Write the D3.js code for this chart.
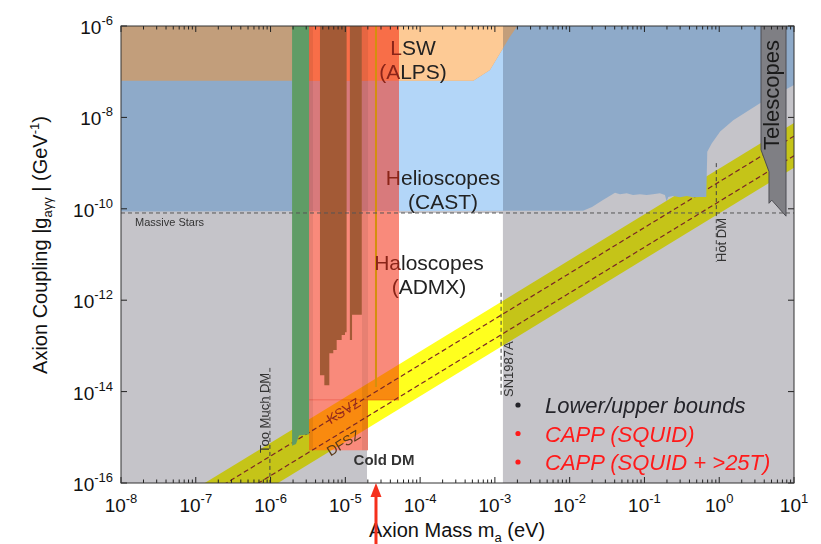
<!DOCTYPE html>
<html><head><meta charset="utf-8">
<script src="https://cdn.jsdelivr.net/npm/d3@7"></script>
<style>
body{margin:0;background:#fff;}
svg{display:block;font-family:"Liberation Sans",Arial,Helvetica,sans-serif;}
</style></head><body>
<svg id="c" width="821" height="544"></svg>
<script>
// ---------------- data ----------------
const xMajor = [1e-8,1e-7,1e-6,1e-5,1e-4,1e-3,1e-2,1e-1,1,10];
const yMajor = [1e-16,1e-14,1e-12,1e-10,1e-8,1e-6];

// Helioscope (CAST + others) lower boundary
const helioMass = [1e-8,1.51e-2,1.99e-2,2.79e-2,4.04e-2,4.71e-2,5.79e-2,7.03e-2,8.71e-2,0.107,0.130,0.161,0.188,0.198,0.208,0.241,0.299,0.367,0.446,0.553,0.671,0.692,0.793,1.03,1.54,3.51,10];
const helioG    = [8.7e-11,9.1e-11,1.10e-10,1.55e-10,2.24e-10,2.09e-10,2.19e-10,2.0e-10,2.09e-10,2.0e-10,2.09e-10,2.19e-10,2.0e-10,1.45e-10,1.82e-10,1.91e-10,1.78e-10,1.91e-10,1.78e-10,1.82e-10,1.82e-10,1.78e-9,2.69e-9,4.9e-9,8.7e-9,2.04e-8,5.13e-8];

// LSW (ALPS) lower/right boundary
const lswMass = [1e-8,5.14e-4,8.59e-4,1.17e-3,1.59e-3,2.0e-3];
const lswG    = [6.3e-8,6.3e-8,1.09e-7,2.53e-7,5.83e-7,1e-6];

// bounds
const massiveStarsG = 8.1e-11;
const coldDM = [1.95e-5, 1.28e-3];
const tooMuchDM = {m: 9.8e-7, g: [3.3e-14, 1e-16]};
const sn1987a  = {m: 1.21e-3, g: [1.45e-12, 7.6e-15]};
const hotDM    = {m: 0.914, g: [1e-9, 6.9e-12]};

// QCD axion band: g = m * 10^offset  (log-log slope 1)
const bandOffsets = {upper: -9.12, lower: -10.1, ksvz: -9.41, dfsz: -9.84};

// ADMX (green)
const admxMass = [1.94e-6, 2.19e-6, 2.40e-6, 3.27e-6];
const admxG    = [6.5e-16, 7.1e-16, 1.1e-15, 1.17e-15];

// RBF / UF (brown) step limits
const rbfEdges  = [4.58e-6,5.24e-6,6.11e-6,6.90e-6,7.66e-6,8.93e-6,9.89e-6,1.04e-5];
const rbfLimits = [2.29e-14,1.38e-14,6.9e-14,8.1e-14,1.35e-13,1.74e-13,2.0e-13,2.0e-13];
const ufEdges   = [1.15e-5,1.23e-5,1.66e-5];
const ufLimits  = [1.35e-13,4.8e-13,4.8e-13];

// HAYSTAC line
const haystac = {m: 2.57e-5, g: 1.26e-14};

// CAPP projections (red)
const cappSquid     = {m: [3.27e-6, 5.22e-5], g: 6.6e-15};
const cappSquid25T  = {m: [3.27e-6, 2.01e-5], g: 5.2e-16};
const cappDarkBands = [[3.27e-6, 3.70e-6],[1.67e-5, 2.01e-5]];

// Telescopes
const telMass = [3.62,3.62,4.63,4.63,5.04,7.82,7.82];
const telG    = [1e-6,1.95e-9,6.5e-10,1.32e-10,1.55e-10,6.9e-11,1e-6];

// arrow (CAPP target mass)
const arrowMass = 2.57e-5;

const legendItems = [
  {label: "Lower/upper bounds", color: "#24242a"},
  {label: "CAPP (SQUID)", color: "#ff1a1a"},
  {label: "CAPP (SQUID + >25T)", color: "#ff1a1a"}
];

// ---------------- drawing ----------------
const L=121, R=794, T=26, B=483;
const x = d3.scaleLog().domain([1e-8,10]).range([L,R]);
const y = d3.scaleLog().domain([1e-16,1e-6]).range([B,T]);
const svg = d3.select("#c");
const defs = svg.append("defs");
const line = d3.line().x(d=>x(d[0])).y(d=>y(d[1]));

function clip(id){ return defs.append("clipPath").attr("id",id); }
clip("plot").append("rect").attr("x",L).attr("y",T).attr("width",R-L).attr("height",B-T);
const helioPoly = d3.zip(helioMass, helioG).concat([[10,1e-6],[1e-8,1e-6]]);
const lswPoly = d3.zip(lswMass, lswG).concat([[1e-8,1e-6]]);
const belowHelio = [[1e-8,1e-16]].concat(d3.zip(helioMass, helioG)).concat([[10,1e-16]]);
clip("helio").append("path").attr("d", line(helioPoly)+"Z");
clip("lsw").append("path").attr("d", line(lswPoly)+"Z");
clip("below").append("path").attr("d", line(belowHelio)+"Z");
clip("strip").append("rect").attr("x",x(coldDM[0])).attr("y",T).attr("width",x(coldDM[1])-x(coldDM[0])).attr("height",B-T);

const plot = svg.append("g").attr("clip-path","url(#plot)");
// background (excluded by bounds)
plot.append("rect").attr("x",L).attr("y",T).attr("width",R-L).attr("height",B-T).attr("fill","#c5c4c9");
// cold DM allowed window
plot.append("rect").attr("x",x(coldDM[0])).attr("y",y(massiveStarsG))
  .attr("width",x(coldDM[1])-x(coldDM[0])).attr("height",B-y(massiveStarsG)).attr("fill","#ffffff");

// helioscopes
plot.append("path").attr("d",line(helioPoly)+"Z").attr("fill","#8eaac9");
plot.append("path").attr("d",line(helioPoly)+"Z").attr("fill","#b3d6f8").attr("clip-path","url(#strip)");
// LSW
plot.append("path").attr("d",line(lswPoly)+"Z").attr("fill","#c29e7b");
plot.append("path").attr("d",line(lswPoly)+"Z").attr("fill","#fdca95").attr("clip-path","url(#strip)");

// CAPP (red) projections with colours depending on what lies beneath
function cappRects(clipId, color){
  [cappSquid, cappSquid25T].forEach(c=>{
    const r = plot.append("rect").attr("x",x(c.m[0])).attr("y",T).attr("width",x(c.m[1])-x(c.m[0]))
      .attr("height",y(c.g)-T).attr("fill",color);
    if(clipId) r.attr("clip-path",`url(#${clipId})`);
  });
}
cappRects(null, "#f98a7b");
cappRects("helio", "#d87a7c");
cappRects("lsw", "#f86e48");
plot.append("rect").attr("x",x(cappSquid.m[0])).attr("y",y(cappSquid.g)-0.5).attr("width",x(cappSquid.m[1])-x(cappSquid.m[0])).attr("height",1).attr("fill","#f06a5a");

// QCD band (multiply) + model lines, only below helioscope limit
const mEnds = [1e-8, 10];
const band = mEnds.map(m=>[m, m*Math.pow(10,bandOffsets.upper)]).concat(mEnds.slice().reverse().map(m=>[m, m*Math.pow(10,bandOffsets.lower)]));
plot.append("path").attr("d",line(band)+"Z").attr("fill","#ffff1e")
  .attr("clip-path","url(#below)").style("mix-blend-mode","multiply");
["ksvz","dfsz"].forEach(k=>{
  plot.append("path").attr("d",line(mEnds.map(m=>[m, m*Math.pow(10,bandOffsets[k])])))
    .attr("clip-path","url(#below)")
    .attr("fill","none").attr("stroke","#7a2626").attr("stroke-width",1.2).attr("stroke-dasharray","5,3");
});

// ADMX green
const admxPoly = [[admxMass[0],1e-6]].concat(d3.zip(admxMass, admxG)).concat([[admxMass[admxMass.length-1],1e-6]]);
plot.append("path").attr("d",line(admxPoly)+"Z").attr("fill","#609c66");

// RBF / UF brown
const stepArea = d3.area().curve(d3.curveStepAfter).x(d=>x(d[0])).y0(y(1e-6)).y1(d=>y(d[1]));
plot.append("path").attr("d",stepArea(d3.zip(rbfEdges, rbfLimits))).attr("fill","#a35a36");
plot.append("path").attr("d",stepArea(d3.zip(ufEdges, ufLimits))).attr("fill","#a35a36");
// HAYSTAC
plot.append("line").attr("x1",x(haystac.m)).attr("x2",x(haystac.m)).attr("y1",T).attr("y2",y(haystac.g))
  .attr("stroke","#d4900e").attr("stroke-width",2);

// darker CAPP edges
cappDarkBands.forEach(b=>{
  plot.append("rect").attr("x",x(b[0])).attr("y",T).attr("width",x(b[1])-x(b[0])).attr("height",y(cappSquid25T.g)-T)
    .attr("fill","#000").attr("opacity",0.07);
});

// region labels, two lines each (first letters tinted where the CAPP region covers them)
const TINT = "#8a2418";
function label(px, py, lines){
  const t = plot.append("text").attr("y",py).attr("text-anchor","middle")
    .attr("font-size",21).attr("fill","#222");
  lines.forEach((parts, li)=>{
    parts.forEach((p, pi)=>{
      const s = t.append("tspan").text(p[0]);
      if(pi===0) s.attr("x",px).attr("dy", li===0 ? 0 : 24);
      if(p[1]) s.attr("fill",TINT);
    });
  });
}
label(413, 55, [[["L",1],["SW",0]], [["(A",1],["LPS)",0]]]);
label(443, 185, [[["H",1],["elioscopes",0]], [["(CAST)",0]]]);
label(429, 270, [[["Ha",1],["loscopes",0]], [["(",1],["ADMX)",0]]]);

// telescopes
plot.append("path").attr("d",line(d3.zip(telMass, telG))+"Z").attr("fill","#7f7f84").attr("stroke","#4d4d52").attr("stroke-width",1);
plot.append("text").attr("transform",`translate(779,95) rotate(-90)`).attr("text-anchor","middle")
  .attr("font-size",22).attr("fill","#1a1a1a").text("Telescopes");

// massive stars line
plot.append("line").attr("x1",L).attr("x2",R).attr("y1",y(massiveStarsG)).attr("y2",y(massiveStarsG))
  .attr("stroke","#555").attr("stroke-dasharray","4,3").attr("stroke-width",1);
plot.append("text").attr("x",135).attr("y",226).attr("font-size",11).attr("fill","#333").text("Massive Stars");

// vertical bounds
[tooMuchDM, sn1987a, hotDM].forEach(b=>{
  plot.append("line").attr("x1",x(b.m)).attr("x2",x(b.m)).attr("y1",y(b.g[0])).attr("y2",y(b.g[1]))
    .attr("stroke","#444").attr("stroke-dasharray","4,3").attr("stroke-width",1);
});
function vtext(px,py,txt){
  plot.append("text").attr("transform",`translate(${px},${py}) rotate(-90)`).attr("font-size",13).attr("fill","#333").text(txt);
}
vtext(268.5, 453, "Too Much DM");
vtext(513, 397, "SN1987A");
vtext(726, 262, "Hot DM");

// model labels
const ang = -Math.atan((y(1e-15)-y(1e-14))/(x(1e-5)-x(1e-6))) * 180/Math.PI;
plot.append("text").attr("transform",`translate(346,415) rotate(${ang})`).attr("text-anchor","middle")
  .attr("font-size",14).attr("fill","#9a2a1a").text("KSVZ");
plot.append("text").attr("transform",`translate(346,447) rotate(${ang})`).attr("text-anchor","middle")
  .attr("font-size",14).attr("fill","#5a3a18").text("DFSZ");
plot.append("text").attr("x",384).attr("y",465).attr("text-anchor","middle").attr("font-size",15)
  .attr("font-weight","bold").attr("fill","#333").text("Cold DM");

// legend
const lg = plot.append("g");
legendItems.forEach((d,i)=>{
  lg.append("circle").attr("cx",518).attr("cy",405+i*28.5).attr("r",2.6).attr("fill",d.color);
  lg.append("text").attr("x",545).attr("y",413+i*28.5).attr("font-size",22).attr("font-style","italic")
    .attr("fill",d.color).text(d.label);
});

// ---------------- axes ----------------
const ax = svg.append("g").attr("stroke","#222").attr("stroke-width",1);
const minors = [];
xMajor.slice(0,-1).forEach(v=>{ for(let j=2;j<=9;j++) minors.push(v*j); });
xMajor.forEach(v=>{
  ax.append("line").attr("x1",x(v)).attr("x2",x(v)).attr("y1",B).attr("y2",B-6);
  ax.append("line").attr("x1",x(v)).attr("x2",x(v)).attr("y1",T).attr("y2",T+6);
});
minors.forEach(v=>{
  ax.append("line").attr("x1",x(v)).attr("x2",x(v)).attr("y1",B).attr("y2",B-3.5);
  ax.append("line").attr("x1",x(v)).attr("x2",x(v)).attr("y1",T).attr("y2",T+3.5);
});
yMajor.forEach(v=>{
  ax.append("line").attr("x1",L).attr("x2",L+6).attr("y1",y(v)).attr("y2",y(v));
  ax.append("line").attr("x1",R).attr("x2",R-6).attr("y1",y(v)).attr("y2",y(v));
});
svg.append("rect").attr("x",L).attr("y",T).attr("width",R-L).attr("height",B-T)
  .attr("fill","none").attr("stroke","#333").attr("stroke-width",1);

function powLabel(sel, v){
  const e = Math.round(Math.log10(v));
  sel.append("tspan").text("10");
  sel.append("tspan").attr("font-size",13).attr("dy",-9).text(String(e));
}
xMajor.forEach(v=>{
  const t = svg.append("text").attr("x",x(v)).attr("y",512).attr("text-anchor","middle").attr("font-size",19).attr("fill","#111");
  powLabel(t, v);
});
yMajor.forEach(v=>{
  const t = svg.append("text").attr("x",113).attr("y",y(v)+8).attr("text-anchor","end").attr("font-size",19).attr("fill","#111");
  powLabel(t, v);
});

// axis titles
const xt = svg.append("text").attr("x",457).attr("y",537).attr("text-anchor","middle").attr("font-size",20).attr("fill","#111");
xt.append("tspan").text("Axion Mass m");
xt.append("tspan").attr("font-size",13).attr("dy",5).text("a");
xt.append("tspan").attr("dy",-5).text(" (eV)");

const yt = svg.append("text").attr("transform","translate(47,245) rotate(-90)").attr("text-anchor","middle").attr("font-size",20).attr("fill","#111");
yt.append("tspan").text("Axion Coupling |g");
yt.append("tspan").attr("font-size",13).attr("dy",5).text("aγγ");
yt.append("tspan").attr("dy",-5).text(" | (GeV");
yt.append("tspan").attr("font-size",13).attr("dy",-8).text("-1");
yt.append("tspan").attr("dy",8).text(")");

// red arrow
const ax0 = x(arrowMass);
svg.append("rect").attr("x",ax0-1.5).attr("y",496).attr("width",3).attr("height",48).attr("fill","#f5301c");
svg.append("path").attr("d",`M${ax0},${B} L${ax0-5.5},${B+14} L${ax0+5.5},${B+14} Z`).attr("fill","#f5301c");
</script>
</body></html>
